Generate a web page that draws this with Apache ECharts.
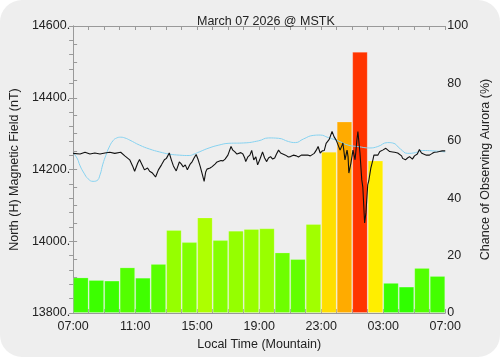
<!DOCTYPE html>
<html>
<head>
<meta charset="utf-8">
<script src="https://cdn.jsdelivr.net/npm/echarts@6/dist/echarts.min.js"></script>
<style>
  html, body { margin: 0; padding: 0; background: #ffffff; }
  #main { width: 500px; height: 357px; background: #eeeeee; border-radius: 22px; }
</style>
</head>
<body>
<div id="main"></div>
<script>
// hourly aurora chance (%), 07:00 .. 06:00
var hourCats = ['07','08','09','10','11','12','13','14','15','16','17','18',
                '19','20','21','22','23','00','01','02','03','04','05','06'];
var auroraPct = [12.4, 11.5, 11.3, 15.9, 12.3, 17.1, 28.9, 24.7, 33.3, 25.4, 28.7, 29.3,
                 29.5, 21.1, 18.8, 31.0, 56.2, 66.7, 91.0, 53.1, 10.5, 9.2, 15.7, 12.9];

// tick labels along the time axis (every 4 hours)
var timeLabels = ['07:00', '11:00', '15:00', '19:00', '23:00', '03:00', '07:00'];

// magnetometer H component: minutes after 07:00, nT
var magMin = [0, 27, 46, 65, 84, 104, 123, 142, 161, 184, 200, 219, 230, 238, 250, 257, 269, 276, 288, 296,
  307, 319, 330, 342, 353, 361, 372, 380, 388, 399, 411, 419, 426, 434, 442, 453, 461, 468, 476, 484,
  492, 499, 507, 513, 518, 530, 538, 549, 557, 564, 572, 580, 588, 599, 611, 618, 626, 634, 641, 649,
  657, 664, 668, 676, 684, 691, 699, 707, 714, 722, 726, 733, 741, 749, 756, 764, 772, 780, 787, 795,
  803, 810, 822, 833, 841, 852, 864, 872, 883, 895, 902, 910, 918, 925, 933, 941, 948, 956, 964, 972,
  979, 991, 1002, 1010, 1018, 1025, 1033, 1041, 1044, 1052, 1060, 1064, 1067, 1075, 1083, 1091, 1094, 1098, 1102, 1110,
  1117, 1121, 1128, 1133, 1140, 1144, 1152, 1160, 1164, 1171, 1179, 1187, 1198, 1210, 1217, 1225, 1236, 1244, 1256, 1263,
  1271, 1275, 1286, 1294, 1302, 1313, 1321, 1332, 1340, 1348, 1356, 1367, 1379, 1390, 1398, 1409, 1417, 1428, 1440];
var magNT = [14245, 14243, 14248, 14243, 14246, 14243, 14246, 14248, 14245, 14248, 14238, 14227, 14210, 14195, 14218, 14228, 14210, 14199, 14204, 14195,
  14190, 14179, 14199, 14213, 14227, 14231, 14246, 14227, 14210, 14196, 14221, 14215, 14207, 14213, 14199, 14215, 14222, 14232, 14242, 14227,
  14208, 14207, 14167, 14193, 14201, 14204, 14208, 14215, 14221, 14218, 14225, 14224, 14229, 14240, 14264, 14254, 14249, 14243, 14240, 14247,
  14243, 14232, 14222, 14235, 14240, 14253, 14227, 14235, 14213, 14227, 14235, 14249, 14232, 14222, 14232, 14236, 14229, 14232, 14243, 14254,
  14246, 14250, 14240, 14235, 14236, 14240, 14238, 14235, 14240, 14240, 14245, 14240, 14238, 14243, 14245, 14254, 14264, 14246, 14252, 14253,
  14273, 14284, 14306, 14291, 14282, 14278, 14254, 14268, 14274, 14227, 14254, 14235, 14190, 14218, 14254, 14227, 14249, 14282, 14306, 14246,
  14171, 14151, 14051, 14079, 14157, 14168, 14204, 14227, 14240, 14245, 14240, 14250, 14254, 14259, 14254, 14250, 14249, 14248, 14246, 14245,
  14238, 14231, 14227, 14232, 14236, 14229, 14238, 14243, 14256, 14246, 14243, 14240, 14240, 14245, 14248, 14249, 14250, 14252, 14252];

// quiet-day baseline: minutes after 07:00, nT
var baseMin = [0, 15, 27, 42, 58, 77, 92, 104, 115, 127, 138, 154, 169, 184, 200, 219, 257, 296, 334, 372,
  411, 449, 468, 488, 526, 564, 603, 660, 718, 756, 795, 833, 860, 891, 929, 956, 987, 1025, 1064, 1102,
  1148, 1179, 1217, 1236, 1267, 1294, 1325, 1352, 1390, 1440];
var baseNT = [14246, 14232, 14210, 14190, 14174, 14167, 14169, 14185, 14215, 14240, 14260, 14280, 14288, 14290, 14288, 14282, 14268, 14257, 14249, 14243,
  14240, 14239, 14243, 14249, 14260, 14268, 14273, 14274, 14280, 14288, 14287, 14278, 14275, 14285, 14295, 14296, 14289, 14280, 14268, 14264,
  14260, 14264, 14275, 14274, 14257, 14245, 14247, 14253, 14252, 14249];

function colorFor(p) {
  if (p < 50) {
    var r = Math.min(255, Math.round(p * 5.2));
    return 'rgb(' + r + ',255,0)';
  }
  var g = Math.max(0, Math.min(255, Math.round(238 - (p - 53) * 4.9)));
  return 'rgb(255,' + g + ',0)';
}

var myChart = echarts.init(document.getElementById('main'));

var font = 'Liberation Sans';
var txt = '#222222';
var axisGray = '#999999';

var magData = magMin.map(function (m, i) { return [m / 60, magNT[i]]; });
var baseData = baseMin.map(function (m, i) { return [m / 60, baseNT[i]]; });

var timeAxis = {
  type: 'value',
  min: 0,
  max: 24,
  interval: 4,
  axisLine: { show: true, lineStyle: { color: axisGray } },
  axisTick: { show: true, inside: true, length: 4, lineStyle: { color: axisGray } },
  minorTick: { show: true, splitNumber: 4, length: 4, lineStyle: { color: axisGray } },
  splitLine: { show: false },
  minorSplitLine: { show: false }
};

var option = {
  animation: false,
  textStyle: { fontFamily: font },
  title: {
    text: 'March 07 2026 @ MSTK',
    left: 192,
    top: 10,
    textStyle: { fontFamily: font, fontSize: 12.5, fontWeight: 'normal', color: txt }
  },
  grid: { left: 73, right: 52, top: 26, bottom: 44 },
  xAxis: [
    Object.assign({}, timeAxis, {
      position: 'bottom',
      axisLabel: {
        margin: 7, color: txt, fontFamily: font, fontSize: 12.5,
        formatter: function (v) { return timeLabels[Math.round(v / 4)]; }
      },
      name: 'Local Time (Mountain)',
      nameLocation: 'middle',
      nameGap: 20,
      nameTextStyle: { color: txt, fontFamily: font, fontSize: 12.5 }
    }),
    Object.assign({}, timeAxis, {
      position: 'top',
      axisLabel: { show: false }
    }),
    {
      type: 'category',
      data: hourCats,
      show: false,
      boundaryGap: true,
      position: 'bottom'
    }
  ],
  yAxis: [
    {
      type: 'value',
      position: 'left',
      min: 13800,
      max: 14600,
      interval: 200,
      axisLine: { show: true, lineStyle: { color: axisGray } },
      axisTick: { show: true, inside: true, length: 4, lineStyle: { color: axisGray } },
      minorTick: { show: true, splitNumber: 4, length: 4, lineStyle: { color: axisGray } },
      splitLine: { show: false },
      axisLabel: {
        margin: 3, color: txt, fontFamily: font, fontSize: 12.5,
        formatter: function (v) { return v + '.'; }
      },
      name: 'North (H) Magnetic Field (nT)',
      nameLocation: 'middle',
      nameRotate: 90,
      nameGap: 47,
      nameTextStyle: { color: txt, fontFamily: font, fontSize: 12.5 }
    },
    {
      type: 'value',
      position: 'right',
      min: 0,
      max: 100,
      interval: 20,
      axisLine: { show: true, lineStyle: { color: axisGray } },
      axisTick: { show: true, inside: true, length: 4, lineStyle: { color: axisGray } },
      minorTick: { show: true, splitNumber: 4, length: 4, lineStyle: { color: axisGray } },
      splitLine: { show: false },
      axisLabel: { margin: 2, color: txt, fontFamily: font, fontSize: 12.5 },
      name: 'Chance of Observing Aurora (%)',
      nameLocation: 'middle',
      nameRotate: 90,
      nameGap: 28,
      nameTextStyle: { color: txt, fontFamily: font, fontSize: 12.5 }
    }
  ],
  series: [
    {
      type: 'bar',
      xAxisIndex: 2,
      yAxisIndex: 1,
      barCategoryGap: '0%',
      data: auroraPct,
      itemStyle: {
        color: function (p) { return colorFor(p.value); },
        borderColor: 'rgba(255,255,255,0.18)',
        borderWidth: 1
      }
    },
    {
      type: 'line',
      xAxisIndex: 0,
      yAxisIndex: 0,
      data: baseData,
      smooth: true,
      showSymbol: false,
      lineStyle: { color: '#86d2f0', width: 1 }
    },
    {
      type: 'line',
      xAxisIndex: 0,
      yAxisIndex: 0,
      data: magData,
      showSymbol: false,
      lineStyle: { color: '#111111', width: 1.1 }
    }
  ]
};

myChart.setOption(option);
</script>
</body>
</html>
